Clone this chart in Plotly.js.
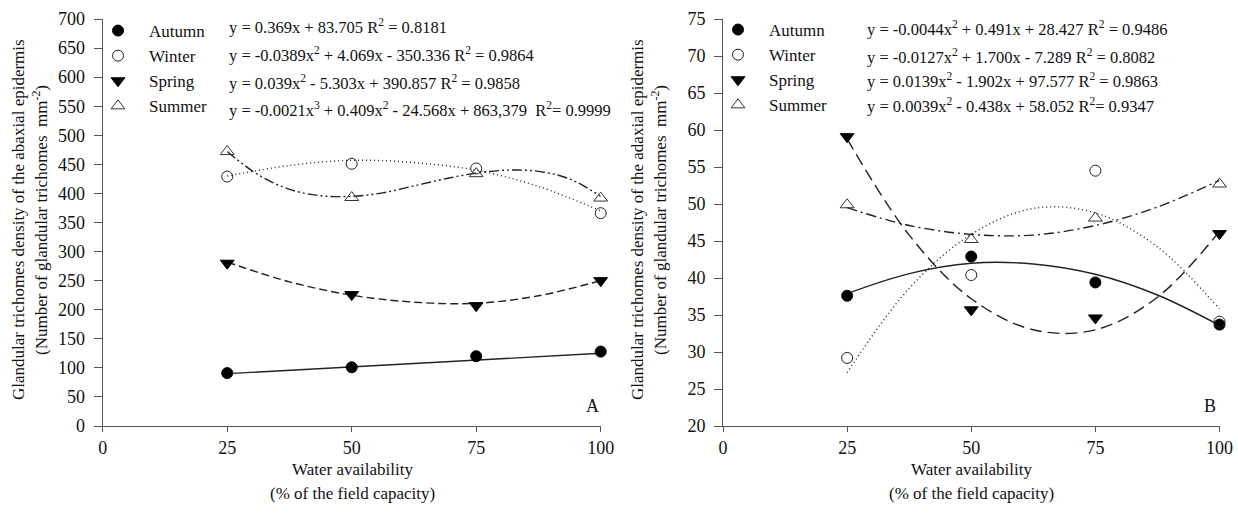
<!DOCTYPE html>
<html>
<head>
<meta charset="utf-8">
<script src="https://cdn.plot.ly/plotly-3.0.1.min.js"></script>
<style>
  html, body { margin: 0; padding: 0; background: #fff; }
  #chart { width: 1238px; height: 513px; }
</style>
</head>
<body>
<div id="chart"></div>
<script>
// ---------- data ----------
const waterX = [25, 50, 75, 100];
const seasons = ["Autumn", "Winter", "Spring", "Summer"];

// Panel A: abaxial epidermis (observed means)
const abaxAutumn = [91, 101, 120, 128];
const abaxWinter = [429, 451, 443, 366];
const abaxSpring = [280, 226, 207, 250];
const abaxSummer = [472, 393, 434, 392];

// Panel B: adaxial epidermis (observed means)
const adaxAutumn = [37.6, 42.9, 39.4, 33.7];
const adaxWinter = [29.2, 40.4, 54.5, 34.1];
const adaxSpring = [59.1, 35.7, 34.6, 46.0];
const adaxSummer = [49.9, 45.2, 48.1, 52.7];

// Fitted curves
const fitXLin = [25, 100];
const fitX = [25, 37.5, 50, 62.5, 75, 87.5, 100];
const fitXDense = [25, 31.25, 37.5, 43.75, 50, 56.25, 62.5, 68.75, 75, 81.25, 87.5, 93.75, 100];
const abaxAutumnFit = [90, 125];
const abaxWinterFit = [430, 448, 457, 453, 440, 412, 370];
const abaxSpringFit = [282, 248, 225, 213, 211, 224, 250];
const abaxSummerFit = [472, 432, 407, 396, 395, 401, 413, 425, 435, 440, 438, 425, 395];

const adaxAutumnFit = [37.9, 40.6, 42.0, 41.9, 40.5, 37.7, 33.6];
const adaxWinterFit = [27.2, 38.6, 45.9, 49.4, 48.8, 44.2, 35.8];
const adaxSpringFit = [58.8, 45.8, 37.2, 33.0, 33.0, 37.4, 46.3];
const adaxSummerFit = [49.5, 47.1, 45.9, 45.8, 47.1, 49.6, 53.2];

// Equations shown in the chart
const eqA = [
  "y = 0.369x + 83.705 R<sup>2</sup> = 0.8181",
  "y = -0.0389x<sup>2</sup> + 4.069x - 350.336 R<sup>2</sup> = 0.9864",
  "y = 0.039x<sup>2</sup> - 5.303x + 390.857 R<sup>2</sup> = 0.9858",
  "y = -0.0021x<sup>3</sup> + 0.409x<sup>2</sup> - 24.568x + 863,379  R<sup>2</sup>= 0.9999"
];
const eqB = [
  "y = -0.0044x<sup>2</sup> + 0.491x + 28.427 R<sup>2</sup> = 0.9486",
  "y = -0.0127x<sup>2</sup> + 1.700x - 7.289 R<sup>2</sup> = 0.8082",
  "y = 0.0139x<sup>2</sup> - 1.902x + 97.577 R<sup>2</sup> = 0.9863",
  "y = 0.0039x<sup>2</sup> - 0.438x + 58.052 R<sup>2</sup>= 0.9347"
];

const yTicksA = [0, 50, 100, 150, 200, 250, 300, 350, 400, 450, 500, 550, 600, 650, 700];
const yTicksB = [20, 25, 30, 35, 40, 45, 50, 55, 60, 65, 70, 75];
const xTicks = [0, 25, 50, 75, 100];

// ---------- styling ----------
const W = 1238, H = 513;
const FONT = "Liberation Serif, Times New Roman, serif";
const INK = "#111";
const AX = "#555";
const LINE = "#222";
const px = v => v / W;
const py = v => 1 - v / H;

const markerStyles = [
  {symbol: "circle", color: "#000", size: 11, line: {color: "#000", width: 1}},
  {symbol: "circle-open", color: "#222", size: 11, line: {color: "#222", width: 1}},
  {symbol: "triangle-down", color: "#000", size: 12, line: {color: "#000", width: 1}},
  {symbol: "triangle-up-open", color: "#333", size: 12, line: {color: "#333", width: 1}}
];
const dashA = ["solid", "1px,3px", "8px,4px", "10px,3px,2px,3px,2px,3px"];
const dashB = ["solid", "1px,3px", "12px,6px", "10px,4px,2px,4px"];

const traces = [];
function addPanel(xa, ya, legendId, obs, fits, fitXs, dashes) {
  for (let i = 0; i < 4; i++) {
    traces.push({
      x: fitXs[i], y: fits[i], xaxis: xa, yaxis: ya,
      mode: "lines", line: {color: LINE, width: 1.4, dash: dashes[i], shape: "spline", smoothing: 1},
      showlegend: false, hoverinfo: "skip", cliponaxis: false
    });
  }
  for (let i = 0; i < 4; i++) {
    traces.push({
      x: waterX, y: obs[i], xaxis: xa, yaxis: ya, name: seasons[i],
      mode: "markers", marker: markerStyles[i],
      legend: legendId, legendgroup: legendId + i, cliponaxis: false
    });
  }
}
addPanel("x", "y", "legend",
  [abaxAutumn, abaxWinter, abaxSpring, abaxSummer],
  [abaxAutumnFit, abaxWinterFit, abaxSpringFit, abaxSummerFit],
  [fitXLin, fitX, fitX, fitXDense], dashA);
addPanel("x2", "y2", "legend2",
  [adaxAutumn, adaxWinter, adaxSpring, adaxSummer],
  [adaxAutumnFit, adaxWinterFit, adaxSpringFit, adaxSummerFit],
  [fitX, fitX, fitX, fitX], dashB);

const yDom = [1 - 426 / H, 1 - 19 / H];
function xAxis(dom, anchor) {
  return {
    domain: dom, anchor: anchor, range: [0, 100], tickvals: xTicks,
    showline: true, linecolor: AX, linewidth: 1, ticks: "outside", ticklen: 5, tickcolor: AX,
    showgrid: false, zeroline: false, tickfont: {family: FONT, size: 18, color: INK}
  };
}
function yAxis(range, tv, anchor) {
  return {
    domain: yDom, anchor: anchor, range: range, tickvals: tv,
    showline: true, linecolor: AX, linewidth: 1, ticks: "outside", ticklen: 8, tickcolor: AX,
    ticklabelstandoff: 5,
    showgrid: false, zeroline: false, tickfont: {family: FONT, size: 18, color: INK}
  };
}

function legendCfg(xpx, ypx) {
  return {
    x: px(xpx), y: py(ypx), xanchor: "left", yanchor: "top",
    bgcolor: "rgba(0,0,0,0)", borderwidth: 0, itemwidth: 52,
    traceorder: "grouped", tracegroupgap: 0,
    font: {family: FONT, size: 17, color: INK}
  };
}

const ann = [];
function txt(text, x, y, opts) {
  ann.push(Object.assign({
    text: text, x: px(x), y: py(y), xref: "paper", yref: "paper", showarrow: false,
    font: {family: FONT, size: 17, color: INK}, xanchor: "center", yanchor: "middle"
  }, opts || {}));
}
const eqRowsA = [26, 55, 82, 109];
const eqRowsB = [28, 56, 80, 105];
const eqFont = {family: FONT, size: 16.5, color: INK};
eqA.forEach((t, i) => txt(t, 227, eqRowsA[i], {xanchor: "left", font: eqFont}));
eqB.forEach((t, i) => txt(t, 865, eqRowsB[i], {xanchor: "left", font: eqFont}));

txt("Glandular trichomes density of the abaxial epidermis", 18, 220, {textangle: -90});
txt("(Number of glandular trichomes  mm<sup>-2</sup>)", 40, 220, {textangle: -90});
txt("Glandular trichomes density of the adaxial epidermis", 637, 220, {textangle: -90});
txt("(Number of glandular trichomes  mm<sup>-2</sup>)", 659, 220, {textangle: -90});
txt("Water availability", 352, 469);
txt("(% of the field capacity)", 352, 493);
txt("Water availability", 971, 469);
txt("(% of the field capacity)", 971, 493);
txt("A", 592, 406, {font: {family: FONT, size: 18, color: INK}});
txt("B", 1210, 406, {font: {family: FONT, size: 18, color: INK}});

const layout = {
  width: W, height: H,
  margin: {l: 0, r: 0, t: 0, b: 0},
  paper_bgcolor: "#fff", plot_bgcolor: "rgba(0,0,0,0)",
  showlegend: true,
  xaxis: xAxis([102.7 / W, 600.7 / W], "y"),
  yaxis: yAxis([0, 700], yTicksA, "x"),
  xaxis2: xAxis([723 / W, 1219.5 / W], "y2"),
  yaxis2: yAxis([20, 75], yTicksB, "x2"),
  legend: legendCfg(87, 13),
  legend2: legendCfg(707, 12),
  annotations: ann,
  font: {family: FONT, color: INK}
};

Plotly.newPlot("chart", traces, layout, {staticPlot: true, displayModeBar: false});
</script>
</body>
</html>
